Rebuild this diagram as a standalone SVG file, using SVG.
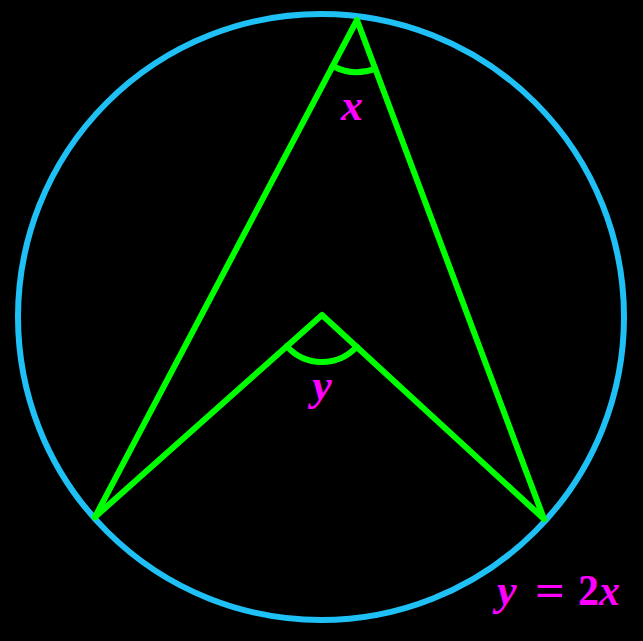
<svg xmlns="http://www.w3.org/2000/svg" width="643" height="641" viewBox="0 0 643 641">
<style>
.g{fill:none;stroke:#00ff00;stroke-width:6;stroke-linejoin:round;stroke-linecap:round}
.c{fill:none;stroke:#1ec0f5;stroke-width:6}
.t{font-family:"Liberation Serif",serif;font-style:italic;font-weight:bold;font-size:44px;fill:#ff00ff}
.n{font-family:"Liberation Serif",serif;font-weight:bold;font-size:44px;fill:#ff00ff}
</style>
<rect width="643" height="641" fill="#000"/>
<g id="circle"><circle class="c" cx="321" cy="317" r="303"/></g>
<g id="connectors">
<path class="g" d="M95 517 L357 20 L544 519"/>
<path class="g" d="M95 517 L322 315 L544 519"/>
<path class="g" d="M332.7 66 A52 52 0 0 0 375.2 68.7"/>
<path class="g" d="M286.9 346.2 A47 47 0 0 0 356.6 346.8"/>
</g>
<g id="label-x"><text class="t" x="352" y="120" text-anchor="middle">x</text></g>
<g id="label-y"><text class="t" x="322" y="400" text-anchor="middle">y</text></g>
<g id="label-eq">
<text class="t" x="497" y="605">y</text>
<text class="n" x="535" y="605" textLength="30" lengthAdjust="spacingAndGlyphs">=</text>
<text x="578" y="605" textLength="42" lengthAdjust="spacingAndGlyphs"><tspan class="n">2</tspan><tspan class="t">x</tspan></text>
</g>
</svg>
